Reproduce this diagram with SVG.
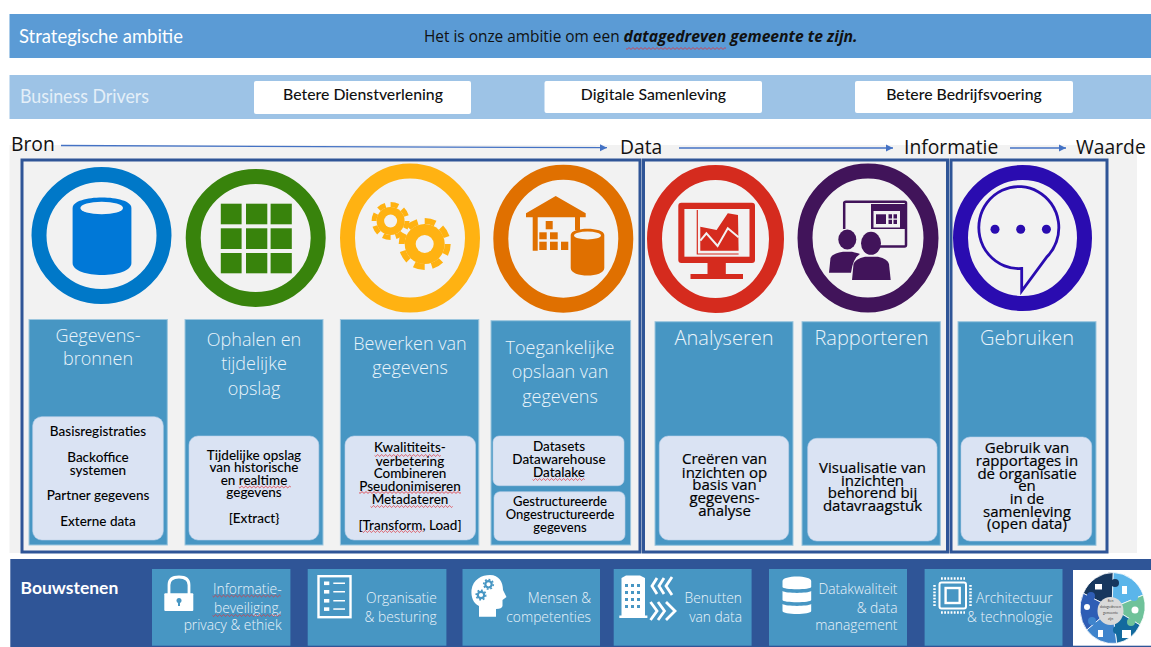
<svg xmlns="http://www.w3.org/2000/svg" width="1151" height="647" viewBox="0 0 1151 647">
<style>
text{font-family:"Lato","Liberation Sans",sans-serif}
.seg{font-family:"Open Sans","DejaVu Sans",sans-serif}
.hd{font-size:19px;fill:#fff}
.drv{font-size:15.800px;fill:#111;text-anchor:middle;font-weight:500}
.flow{font-family:"Open Sans",sans-serif;font-size:19.300px;fill:#111}
.col{fill:#4796C3;stroke:#9CC6DE;stroke-width:1}
.in{fill:#DAE3F3;stroke:#BBD0EA;stroke-width:.6}
.ttl{font-family:"Open Sans",sans-serif;font-size:18px;font-weight:300;fill:#EAF4FB;text-anchor:middle}
.big{font-size:20px}
.b{font-size:13.500px;fill:#000;text-anchor:middle;font-weight:500}
.bs{font-size:13px}
.c{font-family:"Open Sans",sans-serif;font-size:15px;fill:#000;text-anchor:middle;stroke:#000;stroke-width:.2}
.tile{fill:#4796C3}
.tl{font-family:"Open Sans",sans-serif;font-weight:300;font-size:13.800px;fill:#EAF3FA;text-anchor:end}
.frame{fill:none;stroke:#2F5597;stroke-width:3}
.ring{fill:none;stroke-width:15}
.sq{fill:none;stroke:#E0343A;stroke-width:.8}
.arr{fill:none;stroke:#4472C4;stroke-width:1.300;marker-end:url(#ah)}
.seam{stroke:#fff;stroke-width:.8}
</style>
<defs>
<marker id="ah" markerUnits="userSpaceOnUse" markerWidth="8" markerHeight="8" refX="7" refY="4" orient="auto"><path d="M0 .5L7 4L0 7.500Z" fill="#4472C4"/></marker>
</defs>
<rect width="1151" height="647" fill="#fff"/>

<g id="strategische-ambitie">
<rect x="9.500" y="14" width="1141.500" height="44" fill="#5B9BD5"/>
<text class="hd" x="19" y="43" textLength="164" lengthAdjust="spacingAndGlyphs">Strategische ambitie</text>
<text class="seg" x="424" y="42" font-size="15.400" fill="#111">Het is onze ambitie om een <tspan font-weight="700" font-style="italic" font-size="15.700">datagedreven gemeente te zijn.</tspan></text>
<path class="sq" d="M626 48.500q1 1.800 2 0t2 0t2 0t2 0t2 0t2 0t2 0t2 0t2 0t2 0t2 0t2 0t2 0t2 0t2 0t2 0t2 0t2 0t2 0t2 0t2 0t2 0t2 0t2 0t2 0t2 0t2 0t2 0t2 0t2 0t2 0t2 0t2 0t2 0t2 0t2 0t2 0t2 0t2 0t2 0t2 0t2 0t2 0t2 0t2 0t2 0t2 0t2 0t2 0t2 0"/>
</g>

<g id="business-drivers">
<rect x="9.500" y="75" width="1141.500" height="44" fill="#9DC3E6"/>
<text class="hd" x="20" y="103" style="fill:#E4EFF8" textLength="129" lengthAdjust="spacingAndGlyphs">Business Drivers</text>
<rect x="254" y="81" width="217" height="33" rx="2" fill="#fff"/>
<text class="drv" x="363" y="99.500">Betere Dienstverlening</text>
<rect x="544.500" y="81" width="217.500" height="32" rx="2" fill="#fff"/>
<text class="drv" x="653.500" y="99.500">Digitale Samenleving</text>
<rect x="855" y="81" width="218" height="32" rx="2" fill="#fff"/>
<text class="drv" x="964" y="99.500">Betere Bedrijfsvoering</text>
</g>

<rect x="9.500" y="145" width="1127.500" height="408" fill="#F2F2F2"/>

<g id="flow-labels">
<text class="flow" x="11" y="151">Bron</text>
<text class="flow" x="620" y="154">Data</text>
<text class="flow" x="904" y="154">Informatie</text>
<text class="flow" x="1076" y="154">Waarde</text>
</g>

<g id="connectors">
<path class="arr" d="M61 145.500L607 147.700"/>
<path class="arr" d="M679 148H893"/>
<path class="arr" d="M1010 148H1066"/>
</g>

<g id="frames">
<rect class="frame" x="22" y="160" width="618" height="392"/>
<rect class="frame" x="643.500" y="160" width="304" height="392"/>
<rect class="frame" x="951" y="160" width="156" height="392"/>
</g>

<g id="gegevensbronnen">
<ellipse class="ring" cx="101.500" cy="235.500" rx="62.500" ry="61" stroke="#0078C8"/>
<path d="M72.600 208C72.600 194 131.400 194 131.400 208V263C131.400 279 72.600 279 72.600 263Z" fill="#0078D7"/>
<ellipse cx="101.700" cy="208" rx="21.300" ry="6.200" fill="#F2F2F2"/>
<rect class="col" x="29" y="319.500" width="138.300" height="225.500"/>
<text class="ttl" x="98" y="341.700">Gegevens-</text>
<text class="ttl" x="98" y="365">bronnen</text>
<rect class="in" x="32.700" y="416.700" width="130.600" height="123.300" rx="9"/>
<text class="b" x="98" y="436">Basisregistraties</text>
<text class="b" x="98" y="462">Backoffice</text>
<text class="b" x="98" y="474.500">systemen</text>
<text class="b" x="98" y="500">Partner gegevens</text>
<text class="b" x="98" y="526">Externe data</text>
</g>

<g id="ophalen">
<ellipse class="ring" cx="255.700" cy="238" rx="62.500" ry="61.500" stroke="#38830C"/>
<g fill="#38830C">
<rect x="220.800" y="203.700" width="20.800" height="20.600"/><rect x="246" y="203.700" width="21.300" height="20.600"/><rect x="270.600" y="203.700" width="21.200" height="20.600"/>
<rect x="220.800" y="228.300" width="20.800" height="20.700"/><rect x="246" y="228.300" width="21.300" height="20.700"/><rect x="270.600" y="228.300" width="21.200" height="20.700"/>
<rect x="220.800" y="253" width="20.800" height="20.300"/><rect x="246" y="253" width="21.300" height="20.300"/><rect x="270.600" y="253" width="21.200" height="20.300"/>
</g>
<rect class="col" x="185" y="319.500" width="138" height="225.500"/>
<text class="ttl" x="254" y="346">Ophalen en</text>
<text class="ttl" x="254" y="370">tijdelijke</text>
<text class="ttl" x="254" y="395">opslag</text>
<rect class="in" x="189" y="436" width="129.800" height="104" rx="9"/>
<text class="b" x="254" y="459.500">Tijdelijke opslag</text>
<text class="b" x="254" y="472">van historische</text>
<text class="b" x="254" y="484.500">en realtime</text>
<text class="b" x="254" y="497">gegevens</text>
<text class="b" x="254" y="523">[Extract}</text>
<path class="sq" d="M238.800 487q1 1.800 2 0t2 0t2 0t2 0t2 0t2 0t2 0t2 0t2 0t2 0t2 0t2 0t2 0t2 0t2 0t2 0t2 0t2 0t2 0t2 0t2 0t2 0t2 0t2 0t2 0t2 0"/>
</g>

<g id="bewerken">
<ellipse class="ring" cx="410" cy="238" rx="62.500" ry="67" stroke="#FFB212"/>
<g fill="#FFB212">
<circle cx="390.600" cy="221" r="14"/><circle cx="424.700" cy="244" r="20"/>
<circle cx="390.600" cy="221" r="16.500" fill="none" stroke="#FFB212" stroke-width="5" pathLength="80" stroke-dasharray="6 4"/>
<circle cx="424.700" cy="244" r="23" fill="none" stroke="#FFB212" stroke-width="6" pathLength="80" stroke-dasharray="6 4"/>
</g>
<circle cx="390.600" cy="221" r="6.500" fill="#F2F2F2"/><circle cx="424.700" cy="244" r="9" fill="#F2F2F2"/>
<rect class="col" x="340.400" y="319.500" width="138.400" height="225.500"/>
<text class="ttl" x="410" y="350">Bewerken van</text>
<text class="ttl" x="410" y="374">gegevens</text>
<rect class="in" x="345" y="436" width="130.500" height="104" rx="9"/>
<text class="b" x="410" y="452">Kwalititeits-</text>
<text class="b" x="410" y="466">verbetering</text>
<text class="b" x="410" y="478">Combineren</text>
<text class="b" x="410" y="491">Pseudonimiseren</text>
<text class="b" x="410" y="504">Metadateren</text>
<text class="b" x="410" y="529.500">[Transform, Load]</text>
<path class="sq" d="M374.700 455.500q1 1.800 2 0t2 0t2 0t2 0t2 0t2 0t2 0t2 0t2 0t2 0t2 0t2 0t2 0t2 0t2 0t2 0t2 0t2 0t2 0t2 0t2 0t2 0t2 0t2 0t2 0t2 0t2 0t2 0t2 0t2 0t2 0t2 0t2 0"/>
<path class="sq" d="M359 492.500q1 1.800 2 0t2 0t2 0t2 0t2 0t2 0t2 0t2 0t2 0t2 0t2 0t2 0t2 0t2 0t2 0t2 0t2 0t2 0t2 0t2 0t2 0t2 0t2 0t2 0t2 0t2 0t2 0t2 0t2 0t2 0t2 0t2 0t2 0t2 0t2 0t2 0t2 0t2 0t2 0t2 0t2 0t2 0t2 0t2 0t2 0t2 0t2 0t2 0t2 0t2 0t2 0"/>
<path class="sq" d="M370.600 506.500q1 1.800 2 0t2 0t2 0t2 0t2 0t2 0t2 0t2 0t2 0t2 0t2 0t2 0t2 0t2 0t2 0t2 0t2 0t2 0t2 0t2 0t2 0t2 0t2 0t2 0t2 0t2 0t2 0t2 0t2 0t2 0t2 0t2 0t2 0t2 0t2 0t2 0t2 0t2 0t2 0t2 0t2 0"/>
<path class="sq" d="M362.400 531.500q1 1.800 2 0t2 0t2 0t2 0t2 0t2 0t2 0t2 0t2 0t2 0t2 0t2 0t2 0t2 0t2 0t2 0t2 0t2 0t2 0t2 0t2 0t2 0t2 0t2 0t2 0t2 0t2 0t2 0t2 0t2 0"/>
</g>

<g id="opslaan">
<ellipse class="ring" cx="563.300" cy="238.700" rx="62.500" ry="66.500" stroke="#E07000"/>
<g fill="#E07000">
<path d="M555.700 196L585.700 213.300V217.300H580V230H575V217.300H537.700V250.700H532.700V217.300H526V213.300Z"/>
<rect x="545.700" y="221" width="7" height="8.300"/>
<rect x="539.300" y="232.300" width="7.400" height="7"/><rect x="550" y="232.300" width="7.700" height="7"/>
<rect x="539.300" y="241.700" width="7.400" height="8.300"/><rect x="550" y="241.700" width="7.700" height="8.300"/><rect x="561" y="241.700" width="7.300" height="8.300"/>
<path d="M570.700 235C570.700 226.500 604.300 226.500 604.300 235V268C604.300 278 570.700 278 570.700 268Z"/>
</g>
<ellipse cx="587.500" cy="235.500" rx="13.500" ry="3.900" fill="#F2F2F2"/>
<rect class="col" x="491" y="320.700" width="139.600" height="224.300"/>
<text class="ttl" x="560" y="354">Toegankelijke</text>
<text class="ttl" x="560" y="378">opslaan van</text>
<text class="ttl" x="560" y="403">gegevens</text>
<rect class="in" x="493" y="436" width="131" height="49.700" rx="6"/>
<text class="b" x="559" y="450.500">Datasets</text>
<text class="b" x="559" y="463.800">Datawarehouse</text>
<text class="b" x="559" y="476.500">Datalake</text>
<path class="sq" d="M532.600 479.500q1 1.800 2 0t2 0t2 0t2 0t2 0t2 0t2 0t2 0t2 0t2 0t2 0t2 0t2 0t2 0t2 0t2 0t2 0t2 0t2 0t2 0t2 0t2 0t2 0t2 0t2 0t2 0"/>
<rect class="in" x="494" y="491.700" width="131" height="49" rx="6"/>
<text class="b bs" x="560" y="506">Gestructureerde</text>
<text class="b bs" x="560" y="519.300">Ongestructureerde</text>
<text class="b bs" x="560" y="532">gegevens</text>
</g>

<g id="analyseren">
<ellipse class="ring" cx="715.500" cy="239" rx="61" ry="66.500" stroke="#D52B1E"/>
<g fill="#D52B1E">
<rect x="678.300" y="202.700" width="76.700" height="60.300" rx="3"/>
<rect x="707.500" y="262" width="18.300" height="12"/>
<rect x="690.500" y="274" width="52.500" height="5"/>
</g>
<rect x="684.400" y="209" width="65.100" height="47.700" fill="#F2F2F2"/>
<path d="M700.300 226.700L716.600 230L727.800 213.300L738 215L738.600 250.700H700.300Z" fill="#D52B1E"/>
<path d="M700.300 240.700L706.400 233.300L717.600 246L727.800 228.300L738.600 237.300" fill="none" stroke="#F2F2F2" stroke-width="2"/>
<path d="M697.300 210V254H738.600" fill="none" stroke="#D52B1E" stroke-width="1.200"/>
<rect class="col" x="655" y="321.700" width="138" height="223.600"/>
<text class="ttl big" x="724" y="345">Analyseren</text>
<rect class="in" x="659.300" y="436" width="129.400" height="104" rx="9"/>
<text class="c" x="724.500" y="464.300">Creëren van</text>
<text class="c" x="724.500" y="477.700">inzichten op</text>
<text class="c" x="724.500" y="490">basis van</text>
<text class="c" x="724.500" y="502.700">gegevens-</text>
<text class="c" x="724.500" y="516">analyse</text>
</g>

<g id="rapporteren">
<ellipse class="ring" cx="868" cy="238" rx="63" ry="67" stroke="#41145A"/>
<path d="M844.200 229V203Q844.200 201.700 846 201.700H904.500Q906 201.700 906 203V245Q906 246.500 904.500 246.500H875" fill="none" stroke="#41145A" stroke-width="2.500"/>
<rect x="871" y="204" width="34" height="25" fill="#41145A"/>
<rect x="873.500" y="211" width="26.500" height="16.500" fill="#F2F2F2"/>
<rect x="876" y="214.300" width="10" height="9.700" fill="#41145A"/>
<path d="M888.500 214.300h3.500v4.300h-3.500zM893.500 214.300h3.500v4.300h-3.500zM888.500 219.700h3.500v4.300h-3.500zM893.500 219.700h3.500v4.300h-3.500z" fill="#41145A"/>
<ellipse cx="847.300" cy="239.500" rx="9" ry="10" fill="#41145A"/>
<path d="M829 272.700L830.500 258Q832 253.500 843 251.700H852Q858 253 860 254Q853 258 851 272.700Z" fill="#41145A"/>
<ellipse cx="871" cy="243.300" rx="10" ry="11.500" fill="#41145A"/>
<path d="M852 280L853.500 264Q855 259 865 256.700H878Q888 259 889 264L890.700 280Z" fill="#41145A"/>
<rect class="col" x="802" y="321.700" width="138.300" height="223.600"/>
<text class="ttl big" x="871.500" y="345">Rapporteren</text>
<rect class="in" x="807.700" y="438.300" width="129.300" height="102.700" rx="9"/>
<text class="c" x="872.500" y="472.700">Visualisatie van</text>
<text class="c" x="872.500" y="485.700">inzichten</text>
<text class="c" x="872.500" y="497.700">behorend bij</text>
<text class="c" x="872.500" y="510.700">datavraagstuk</text>
</g>

<g id="gebruiken">
<ellipse class="ring" cx="1022.500" cy="238" rx="62" ry="65.500" stroke="#2A0CB0"/>
<path d="M1021.700 268.500A40 41 0 1 1 1047 256.700L1021.700 291V268.500Z" fill="none" stroke="#2A0CB0" stroke-width="2.800"/>
<g fill="#2A0CB0"><circle cx="995" cy="229.300" r="4.500"/><circle cx="1020.700" cy="229.300" r="4.500"/><circle cx="1046.400" cy="229.300" r="4.500"/></g>
<rect class="col" x="958" y="321.700" width="138" height="223.600"/>
<text class="ttl big" x="1027" y="345">Gebruiken</text>
<rect class="in" x="961" y="437" width="130.700" height="104" rx="9"/>
<text class="c" x="1027" y="452.700">Gebruik van</text>
<text class="c" x="1027" y="466">rapportages in</text>
<text class="c" x="1027" y="479">de organisatie</text>
<text class="c" x="1027" y="491">en</text>
<text class="c" x="1027" y="504.300">in de</text>
<text class="c" x="1027" y="516.700">samenleving</text>
<text class="c" x="1027" y="529.300">(open data)</text>
</g>

<g id="bouwstenen">
<rect x="10.300" y="559" width="1140.700" height="88" fill="#2F5597"/>
<text x="20.500" y="594" font-size="17.500" font-weight="700" fill="#fff">Bouwstenen</text>
</g>

<g id="informatiebeveiliging">
<rect class="tile" x="152" y="569" width="138.400" height="76.700"/>
<path d="M169 594V585Q169 577 179 577Q189 577 189 585V594" fill="none" stroke="#fff" stroke-width="2.800"/>
<rect x="164.300" y="593.300" width="29" height="17.700" rx="1" fill="#fff"/>
<circle cx="179" cy="600.500" r="2.500" fill="#4796C3"/><rect x="178" y="601" width="2" height="5" fill="#4796C3"/>
<text class="tl" x="281.600" y="594">Informatie-</text>
<text class="tl" x="281.600" y="612.700">beveiliging,</text>
<text class="tl" x="281.600" y="630">privacy &amp; ethiek</text>
<path class="sq" d="M212.600 596q1 1.800 2 0t2 0t2 0t2 0t2 0t2 0t2 0t2 0t2 0t2 0t2 0t2 0t2 0t2 0t2 0t2 0t2 0t2 0t2 0t2 0t2 0t2 0t2 0t2 0t2 0t2 0t2 0t2 0t2 0t2 0t2 0t2 0t2 0t2 0"/>
<path class="sq" d="M212.600 615.500q1 1.800 2 0t2 0t2 0t2 0t2 0t2 0t2 0t2 0t2 0t2 0t2 0t2 0t2 0t2 0t2 0t2 0t2 0t2 0t2 0t2 0t2 0t2 0t2 0t2 0t2 0t2 0t2 0t2 0t2 0t2 0t2 0t2 0t2 0t2 0"/>
</g>

<g id="organisatie">
<rect class="tile" x="307.700" y="569" width="138.700" height="76.700"/>
<rect x="318.500" y="576.200" width="32" height="41" fill="none" stroke="#fff" stroke-width="2.400"/>
<g fill="#fff"><rect x="324" y="581.500" width="5.300" height="3.600"/><rect x="324" y="590" width="5.300" height="3.600"/><rect x="324" y="599" width="5.300" height="3.600"/><rect x="324" y="607.300" width="5.300" height="3.600"/>
<rect x="333.300" y="582.500" width="11.700" height="1.500"/><rect x="333.300" y="591" width="11.700" height="1.500"/><rect x="333.300" y="600" width="11.700" height="1.500"/><rect x="333.300" y="608.300" width="11.700" height="1.500"/></g>
<text class="tl" x="436.800" y="603.300">Organisatie</text>
<text class="tl" x="436.800" y="621.700">&amp; besturing</text>
</g>

<g id="mensen">
<rect class="tile" x="462.500" y="569" width="137.500" height="76.700"/>
<path d="M471.500 590C473 579 482 575 490 575C499 575 503 582 503 590L506.500 597L502.500 600V606Q502 609 496 609V616.700H479V606C473 603 471 597 471.500 590Z" fill="#fff"/>
<circle cx="488.500" cy="584.300" r="3.200" fill="none" stroke="#4796C3" stroke-width="2.200"/>
<circle cx="488.500" cy="584.300" r="4.800" fill="none" stroke="#4796C3" stroke-width="1.600" pathLength="80" stroke-dasharray="5 5"/>
<circle cx="481" cy="595" r="3.200" fill="none" stroke="#4796C3" stroke-width="2.200"/>
<circle cx="481" cy="595" r="4.800" fill="none" stroke="#4796C3" stroke-width="1.600" pathLength="80" stroke-dasharray="5 5"/>
<text class="tl" x="591" y="603.300">Mensen &amp;</text>
<text class="tl" x="591" y="621.700">competenties</text>
</g>

<g id="benutten">
<rect class="tile" x="613.700" y="569" width="137.900" height="76.700"/>
<path d="M621.500 578L626 575.500H640L645 578V615.500H647.400V618H619.300V615.500H621.500Z" fill="#fff"/>
<path d="M625 584h3v3h-3zM631 584h3v3h-3zM637 584h3v3h-3zM625 591h3v3h-3zM631 591h3v3h-3zM637 591h3v3h-3zM625 598h3v3h-3zM631 598h3v3h-3zM637 598h3v3h-3zM625 605h3v3h-3zM631 605h3v3h-3zM637 605h3v3h-3z" fill="#4796C3"/>
<path d="M657 578L652 586L657 594M664 578L659 586L664 594M672 577L666 586L672 595" fill="none" stroke="#fff" stroke-width="2.800"/>
<path d="M650.500 602L657 611L650.500 620M658 602L664.500 611L658 620M666 602L675 611L666 620" fill="none" stroke="#fff" stroke-width="2.800"/>
<text class="tl" x="742" y="603.300">Benutten</text>
<text class="tl" x="742" y="621.700">van data</text>
</g>

<g id="datakwaliteit">
<rect class="tile" x="769" y="569" width="138" height="76.700"/>
<g fill="#fff">
<path d="M782.500 581C782.500 575 811.200 575 811.200 581V587C811.200 590 782.500 590 782.500 587Z"/>
<path d="M782.500 591C786 593.500 808 593.500 811.200 591V600C811.200 603 782.500 603 782.500 600Z"/>
<path d="M782.500 604C786 606.500 808 606.500 811.200 604V611C811.200 615 782.500 615 782.500 611Z"/>
</g>
<text class="tl" x="897.500" y="594">Datakwaliteit</text>
<text class="tl" x="897.500" y="612.700">&amp; data</text>
<text class="tl" x="897.500" y="630">management</text>
</g>

<g id="architectuur">
<rect class="tile" x="924.600" y="569" width="137.900" height="76.700"/>
<rect x="939.500" y="582.500" width="26.500" height="26" rx="2" fill="none" stroke="#fff" stroke-width="2"/>
<rect x="945.600" y="588" width="14.100" height="15" fill="none" stroke="#fff" stroke-width="2.400"/>
<path d="M941 578.500H965M941 612.500H965M934.500 585V607M970.500 585V607" fill="none" stroke="#fff" stroke-width="2.500" stroke-dasharray="1.800 1.400"/>
<text class="tl" x="1052.600" y="603.300">Architectuur</text>
<text class="tl" x="1052.600" y="621.700">&amp; technologie</text>
</g>

<g id="puzzel">
<rect x="1073" y="570" width="78" height="75.700" fill="#fff"/>
<path class="seam" d="M1112 608L1083.300 593.300A33 35.500 0 0 1 1113.300 572.500Z" fill="#17375E"/>
<path class="seam" d="M1112 608L1113.300 572.500A33 35.500 0 0 1 1143.300 595Z" fill="#5BB5EA"/>
<path class="seam" d="M1112 608L1143.300 595A33 35.500 0 0 1 1140 625Z" fill="#6FC29A"/>
<path class="seam" d="M1112 608L1140 625A33 35.500 0 0 1 1116.700 643.300Z" fill="#136A9E"/>
<path class="seam" d="M1112 608L1116.700 643.300A33 35.500 0 0 1 1086.700 630Z" fill="#3F84CC"/>
<path class="seam" d="M1112 608L1086.700 630A33 35.500 0 0 1 1083.300 593.300Z" fill="#2E5DB5"/>
<circle cx="1115" cy="583" r="4" fill="#17375E"/>
<circle cx="1134" cy="597" r="4" fill="#5BB5EA"/>
<circle cx="1131" cy="622" r="4" fill="#6FC29A"/>
<circle cx="1117" cy="630" r="4" fill="#136A9E"/>
<circle cx="1092" cy="621" r="4" fill="#3F84CC"/>
<circle cx="1091" cy="596" r="4" fill="#2E5DB5"/>
<ellipse cx="1110.500" cy="611" rx="13" ry="14" fill="#D9D9D9"/>
<g font-size="3.500" fill="#444" text-anchor="middle"><text x="1110.500" y="602">Een</text><text x="1110.500" y="608">datagedreven</text><text x="1110.500" y="614">gemeente</text><text x="1110.500" y="620">zijn</text></g>
<g fill="#fff"><rect x="1095" y="584" width="7" height="5.500"/><rect x="1122" y="586" width="5" height="8"/><circle cx="1135" cy="610" r="3.500"/><rect x="1122" y="630" width="9" height="8"/><rect x="1098" y="630" width="5" height="7"/><circle cx="1087" cy="607" r="3"/></g>
</g>
</svg>
